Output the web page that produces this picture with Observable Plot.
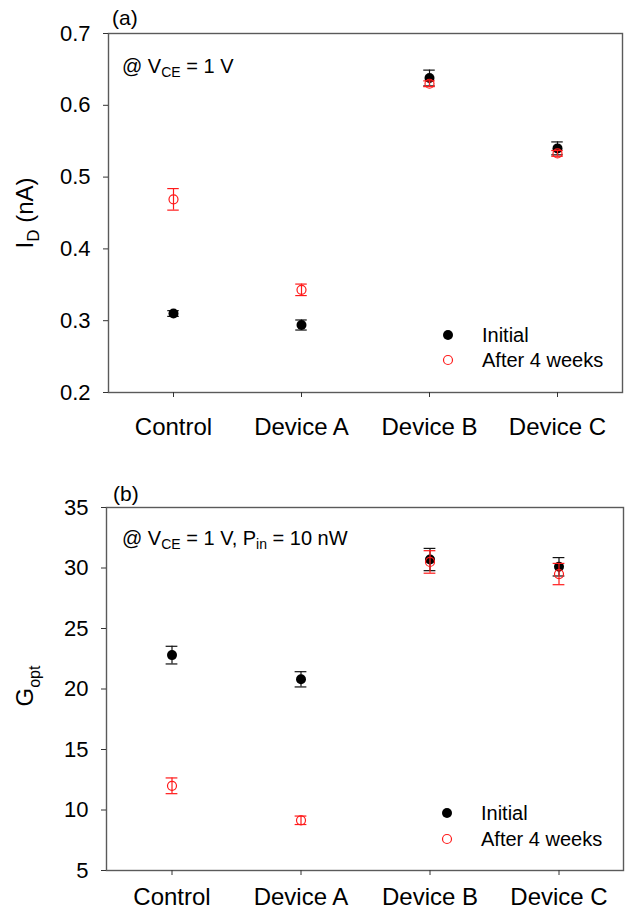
<!DOCTYPE html>
<html><head><meta charset="utf-8">
<script src="https://cdn.jsdelivr.net/npm/d3@7"></script>
<script src="https://cdn.jsdelivr.net/npm/@observablehq/plot@0.6"></script>
<style>
html,body{margin:0;padding:0;background:#fff;}
#chart svg{display:block;}
</style></head><body><div id="chart"></div>
<script>
const categories = ["Control", "Device A", "Device B", "Device C"];
const seriesNames = ["Initial", "After 4 weeks"];

// Panel (a): I_D (nA)
const idInitial = [0.310, 0.294, 0.638, 0.540];
const idInitialErr = [0.004, 0.007, 0.011, 0.009];
const idAfter = [0.469, 0.343, 0.630, 0.533];
const idAfterErr = [0.015, 0.008, 0.004, 0.004];
const idTicks = [0.2, 0.3, 0.4, 0.5, 0.6, 0.7];

// Panel (b): G_opt
const gInitial = [22.8, 20.8, 30.7, 30.1];
const gInitialErr = [0.73, 0.63, 0.92, 0.76];
const gAfter = [12.0, 9.15, 30.5, 29.5];
const gAfterErr = [0.65, 0.35, 0.93, 0.88];
const gTicks = [5, 10, 15, 20, 25, 30, 35];

const FONT = "'Liberation Sans', Arial, sans-serif";
const W = 632;
const RED = "#ff1a1a";

function rowsOf(vals, errs) {
  return categories.map((c, i) => ({c, v: vals[i], e: errs[i]}));
}

function panel(o) {
  const init = rowsOf(o.init, o.initErr);
  const after = rowsOf(o.after, o.afterErr);
  const bw = (W - o.ml - o.mr) / categories.length;
  const inset = (bw - 12) / 2;
  const errMarks = (rows, color) => [
    Plot.ruleX(rows, {x: "c", y1: d => d.v - d.e, y2: d => d.v + d.e, stroke: color, strokeWidth: 1.2}),
    Plot.tickY(rows, {x: "c", y: d => d.v - d.e, insetLeft: inset, insetRight: inset, stroke: color, strokeWidth: 1.2}),
    Plot.tickY(rows, {x: "c", y: d => d.v + d.e, insetLeft: inset, insetRight: inset, stroke: color, strokeWidth: 1.2})
  ];
  return Plot.plot({
    width: W, height: o.height,
    marginTop: o.mt, marginBottom: o.mb, marginLeft: o.ml, marginRight: o.mr,
    style: {fontFamily: FONT, fontSize: "22px", color: "#000", background: "#fff", overflow: "visible"},
    x: {type: "band", domain: categories, padding: 0, label: null},
    y: {domain: o.yDomain, label: null},
    marks: [
      Plot.frame({stroke: "#5a5a5a", strokeWidth: 1.4}),
      Plot.axisY({ticks: o.yTicks, tickFormat: o.yFmt, tickSize: 5, tickPadding: 13, fontSize: 22, label: null, stroke: "#333"}),
      Plot.axisX({tickSize: 5, tickPadding: o.xPad, fontSize: 24, label: null, stroke: "#333"}),
      ...errMarks(init, "#111"),
      Plot.dot(init, {x: "c", y: "v", r: 5, fill: "#000", stroke: "none"}),
      ...errMarks(after, RED),
      Plot.dot(after, {x: "c", y: "v", r: 4.5, fill: "none", stroke: RED, strokeWidth: 1.2})
    ]
  });
}

function addText(svg, x, y, size, parts, opts = {}) {
  const t = d3.select(svg).append("text")
    .attr("font-family", FONT).attr("font-size", size).attr("fill", "#000")
    .attr("text-anchor", "start");
  if (opts.rotate) {
    t.attr("transform", `translate(${x},${y}) rotate(-90)`).attr("text-anchor", "middle");
  } else {
    t.attr("x", x).attr("y", y);
  }
  let shift = 0;
  for (const p of parts) {
    const sp = t.append("tspan").text(p.t);
    if (p.sub) {
      sp.attr("font-size", p.size).attr("dy", p.sub - shift);
      shift = p.sub;
    } else if (shift) {
      sp.attr("dy", -shift);
      shift = 0;
    }
  }
  return t;
}

function addLegend(svg, x, y1, y2) {
  const s = d3.select(svg);
  s.append("circle").attr("cx", x).attr("cy", y1).attr("r", 5).attr("fill", "#000");
  s.append("circle").attr("cx", x).attr("cy", y2).attr("r", 4.5).attr("fill", "none").attr("stroke", RED).attr("stroke-width", 1.2);
  addText(svg, x + 34, y1 + 7, 20, [{t: seriesNames[0]}]);
  addText(svg, x + 34, y2 + 7, 20, [{t: seriesNames[1]}]);
}

const chart = document.getElementById("chart");

const svgA = panel({
  height: 454, mt: 33, mb: 62, ml: 108, mr: 10,
  yDomain: [0.2, 0.7], yTicks: idTicks, yFmt: d3.format(".1f"), xPad: 20,
  init: idInitial, initErr: idInitialErr, after: idAfter, afterErr: idAfterErr
});
addText(svgA, 112, 25, 21, [{t: "(a)"}]);
addText(svgA, 122, 72.5, 20, [{t: "@ V"}, {t: "CE", sub: 4, size: 14}, {t: " = 1 V"}]);
addText(svgA, 33, 213, 24, [{t: "I"}, {t: "D", sub: 6, size: 17}, {t: " (nA)"}], {rotate: true});
addLegend(svgA, 448, 335, 360);
chart.appendChild(svgA);

const svgB = panel({
  height: 454, mt: 53, mb: 38, ml: 106, mr: 9,
  yDomain: [5, 35], yTicks: gTicks, yFmt: d3.format("d"), xPad: 12,
  init: gInitial, initErr: gInitialErr, after: gAfter, afterErr: gAfterErr
});
addText(svgB, 113, 46.5, 21, [{t: "(b)"}]);
addText(svgB, 122, 91, 20, [{t: "@ V"}, {t: "CE", sub: 4, size: 14}, {t: " = 1 V, P"}, {t: "in", sub: 4, size: 14}, {t: " = 10 nW"}]);
addText(svgB, 33, 232, 24, [{t: "G"}, {t: "opt", sub: 7, size: 16}], {rotate: true});
addLegend(svgB, 447, 359, 385);
chart.appendChild(svgB);
</script>
</body></html>
